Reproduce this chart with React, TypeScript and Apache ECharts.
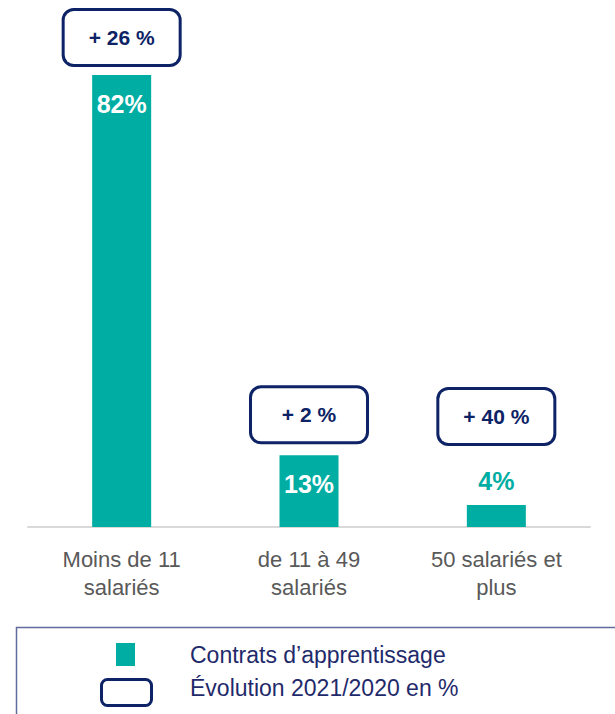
import React, { useEffect, useRef } from "react";
import * as echarts from "echarts";

const categories = ["Moins de 11\nsalariés", "de 11 à 49\nsalariés", "50 salariés et\nplus"];
const shares = [82, 13, 4];
const evolutions = ["+ 26 %", "+ 2 %", "+ 40 %"];
const seriesNames = ["Contrats d\u2019apprentissage", "Évolution 2021/2020 en %"];

const TEAL = "#00ADA3";
const NAVY = "#0D2366";
const FONT = "'Liberation Sans', Arial, sans-serif";

export default function App() {
  const ref = useRef<HTMLDivElement>(null);
  useEffect(() => {
    if (!ref.current) return;
    const chart = echarts.init(ref.current, null, { renderer: "svg" });
    const insideIdx = [0, 1];
    chart.setOption({
      animation: false,
      textStyle: { fontFamily: FONT },
      grid: { left: 28, right: 25, top: 75, bottom: 187 },
      xAxis: {
        type: "category",
        data: categories,
        axisTick: { show: false },
        axisLine: { lineStyle: { color: "#D9D9D9", width: 2 } },
        axisLabel: { fontSize: 22, color: "#595959", lineHeight: 28, margin: 18, fontFamily: FONT },
      },
      yAxis: { type: "value", min: 0, max: 82, show: false, splitLine: { show: false } },
      series: [
        {
          name: seriesNames[0],
          type: "bar",
          barWidth: 59,
          data: shares.map((v, i) => ({
            value: v,
            label: insideIdx.includes(i)
              ? { position: "insideTop", distance: 16, color: "#fff" }
              : { position: "top", distance: 11, color: TEAL },
          })),
          itemStyle: { color: TEAL },
          label: {
            show: true,
            formatter: "{c}%",
            fontSize: 25,
            fontWeight: "bold",
            fontFamily: FONT,
          },
          z: 2,
        },
        {
          name: seriesNames[1],
          type: "bar",
          barWidth: 59,
          barGap: "-100%",
          data: shares.map((v, i) => ({
            value: v,
            label: { distance: i === 2 ? 62 : i === 1 ? 14 : 11 },
          })),
          itemStyle: { color: "rgba(0,0,0,0)" },
          silent: true,
          label: {
            show: true,
            position: "top",
            formatter: (p: any) => evolutions[p.dataIndex],
            fontSize: 21,
            fontWeight: "bold",
            color: NAVY,
            fontFamily: FONT,
            backgroundColor: "#fff",
            borderColor: NAVY,
            borderWidth: 3,
            borderRadius: 9,
            width: 114,
            height: 53,
            lineHeight: 53,
          },
          z: 3,
        },
      ],
      graphic: [
        {
          type: "rect",
          shape: { x: 16.5, y: 627.5, width: 620, height: 120 },
          style: { fill: "none", stroke: "#5F6C9C", lineWidth: 1.5 },
        },
        {
          type: "rect",
          shape: { x: 116, y: 643, width: 19, height: 23 },
          style: { fill: TEAL },
        },
        {
          type: "rect",
          shape: { x: 101.5, y: 679.5, width: 50, height: 26, r: 6 },
          style: { fill: "#fff", stroke: NAVY, lineWidth: 3 },
        },
        {
          type: "text",
          x: 190,
          y: 655,
          style: {
            text: seriesNames[0],
            fill: "#1F2A6B",
            font: `23px ${FONT}`,
            verticalAlign: "middle",
          },
        },
        {
          type: "text",
          x: 190,
          y: 688,
          style: {
            text: seriesNames[1],
            fill: "#1F2A6B",
            font: `23px ${FONT}`,
            verticalAlign: "middle",
          },
        },
      ],
    });
    return () => chart.dispose();
  }, []);
  return (
    <div
      ref={ref}
      style={{ position: "fixed", left: 0, top: 0, width: 615, height: 714, background: "#fff" }}
    />
  );
}
